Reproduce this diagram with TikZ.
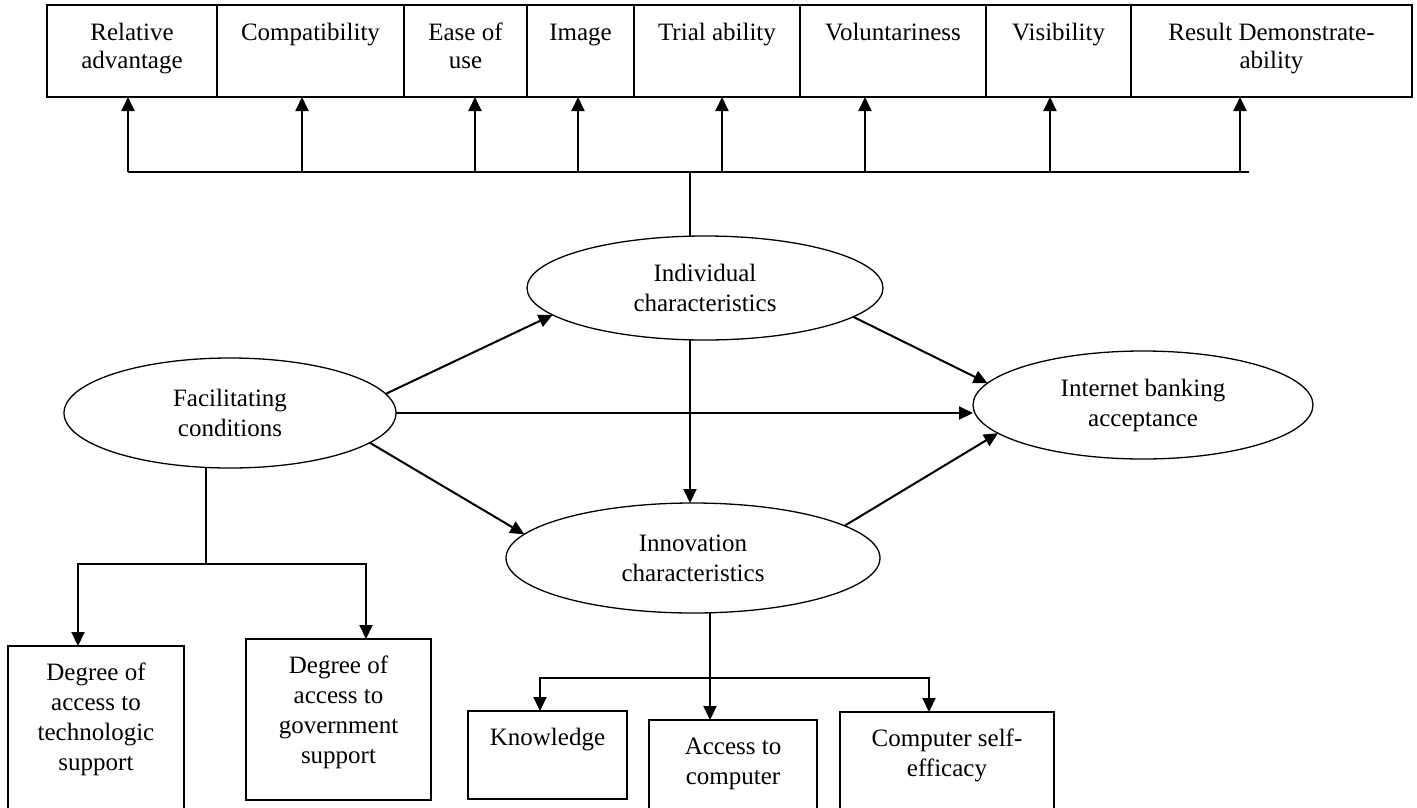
\documentclass[tikz,border=0pt]{standalone}
\usepackage{fontspec}
\setmainfont{Liberation Serif}
\usetikzlibrary{arrows.meta, positioning, shapes.geometric, calc}

\begin{document}
\begin{tikzpicture}[
    x=1pt, y=-1pt,
    attr/.style={draw, line width=1.5pt, outer sep=0pt, inner xsep=0pt, inner ysep=0pt, align=flush center, anchor=north west, font=\fontsize{25}{28}\selectfont, text height=35pt, text depth=57pt},
    factor/.style={draw, line width=1.5pt, outer sep=0pt, inner xsep=0pt, inner ysep=0pt, align=flush center, anchor=north west, font=\fontsize{25}{30}\selectfont, text height=34pt},
    construct/.style={ellipse, draw, line width=1.3pt, inner sep=0pt, outer sep=0pt, align=flush center, font=\fontsize{25}{30}\selectfont},
    arrow/.style={-{Triangle[length=14pt, width=13pt]}, line width=2pt},
    link/.style={line width=1.3pt}
]
\useasboundingbox (0,0) rectangle (1417,807);
\node[attr, text width=170pt] (relad) at (47,5) {Relative\\advantage};
\node[attr, text width=187pt] (compat) at (relad.north east) {Compatibility};
\node[attr, text width=123pt] (ease) at (compat.north east) {Ease of\\use};
\node[attr, text width=107pt] (image) at (ease.north east) {Image};
\node[attr, text width=166pt] (trial) at (image.north east) {Trial ability};
\node[attr, text width=186pt] (volun) at (trial.north east) {Voluntariness};
\node[attr, text width=145pt] (visib) at (volun.north east) {Visibility};
\node[attr, text width=281pt] (result) at (visib.north east) {Result Demonstrate-\hspace*{86pt}\\ability};
\node[construct, minimum width=356pt, minimum height=104pt] (indiv) at (705,288) {Individual\\characteristics};
\node[construct, minimum width=332pt, minimum height=110pt] (facil) at (230,413) {Facilitating\\conditions};
\node[construct, minimum width=340pt, minimum height=108pt] (inet) at (1143,405) {Internet banking\\acceptance};
\node[construct, minimum width=374pt, minimum height=110pt] (innov) at (693,558) {Innovation\\characteristics};
\node[factor, text width=176pt, text depth=130pt] (tech) at (8,646) {Degree of\\access to\\technologic\\support};
\node[factor, text width=185pt, text depth=127pt] (gov) at (246,639) {Degree of\\access to\\government\\support};
\node[factor, text width=159pt, text depth=54pt] (know) at (468,711) {Knowledge};
\node[factor, text width=168pt, text depth=56pt] (access) at (649,720) {Access to\\computer};
\node[factor, text width=214pt, text depth=64pt] (comp) at (840,712) {Computer self-\\efficacy};
\coordinate (hub) at (690,172);
\coordinate (barL) at (128,172);
\coordinate (barR) at (1249,172);
\foreach \n/\x in {relad/128, compat/302, ease/475, image/578, trial/722, volun/865, visib/1050, result/1240} {
    \coordinate (f\n) at (\x,172);
    \draw[arrow] (f\n) -- (f\n |- \n.south);
}
\draw[line width=2pt] (barL) -- (barR);
\draw[link] (hub) -- (hub |- indiv.north);
\draw[arrow] (facil.7) -- (indiv.190);
\draw[arrow] (facil.east) -- (facil.east -| inet.west);
\draw[arrow] (facil.-12) -- (innov.172);
\draw[arrow] (indiv.-11) -- (inet.172);
\draw[arrow] (innov.12) -- (inet.191);
\draw[arrow] (hub |- indiv.south) -- (hub |- innov.north);
\coordinate (fjoin) at (206,564);
\draw[link] (fjoin |- facil.south) -- (fjoin);
\draw[arrow] (fjoin) -| ([xshift=-18pt]tech.north);
\draw[arrow] (fjoin) -| ([xshift=27.5pt]gov.north);
\coordinate (ijoin) at (710,678);
\draw[link] (ijoin |- innov.south) -- (ijoin);
\draw[arrow] (ijoin) -- (ijoin |- access.north);
\draw[arrow] (ijoin) -| ([xshift=-7.5pt]know.north);
\draw[arrow] (ijoin) -| ([xshift=-18pt]comp.north);
\end{tikzpicture}
\end{document}
